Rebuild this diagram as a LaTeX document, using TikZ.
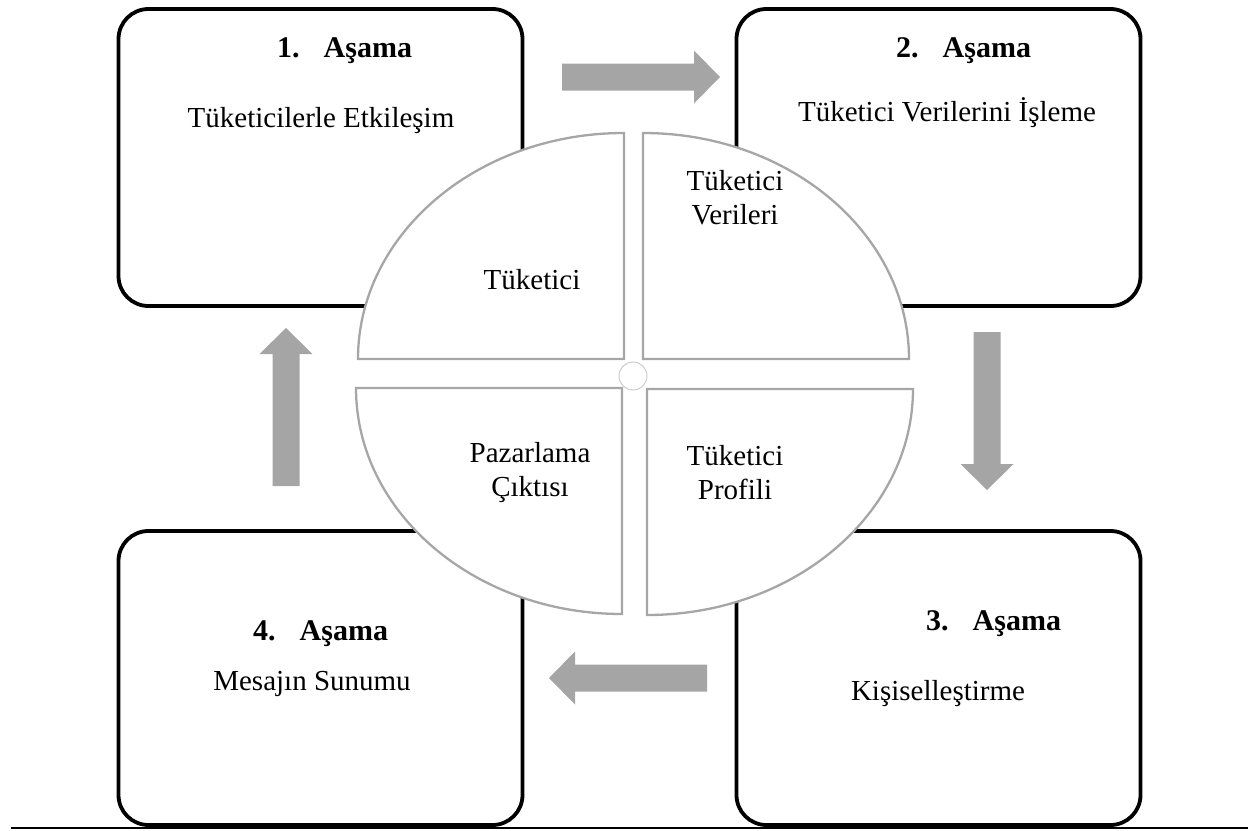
\documentclass[tikz,border=0pt]{standalone}
\usepackage{fontspec}
\setmainfont{Liberation Serif}
\definecolor{quadline}{HTML}{A6A6A6}
\definecolor{arrowgray}{HTML}{A5A5A5}
\definecolor{hubline}{HTML}{CCCCCC}

\begin{document}
\begin{tikzpicture}[x=1pt,y=-1pt,
  stage/.style={draw=black, line width=3.8pt, rounded corners=30pt, fill=white,
    minimum width=404pt, inner sep=0pt},
  quad/.style={draw=quadline, line width=2.3pt, fill=white},
  blockarrow/.pic={
    \fill[arrowgray] (-79,-13.5) -- (53,-13.5) -- (53,-26.5) -- (79,0)
      -- (53,26.5) -- (53,13.5) -- (-79,13.5) -- cycle;
  },
  lbl/.style={font=\fontsize{29}{34}\selectfont, inner sep=0pt, align=center},
  hdr/.style={font=\fontsize{30}{34}\selectfont\bfseries, inner sep=0pt, anchor=base west},
]
\useasboundingbox (0,0) rectangle (1253,830);

% the four stage boxes
\node[stage, minimum height=297pt] (box1) at (320.5,157.5) {};
\node[stage, minimum height=297pt] (box2) at (938.5,157.5) {};
\node[stage, minimum height=294pt] (box3) at (938.5,678) {};
\node[stage, minimum height=294pt] (box4) at (320.5,678) {};

% base line under the figure
\coordinate (baseL) at (11,828);
\coordinate (baseR) at (1248,828);
\draw[line width=2pt] (baseL) -- (baseR);

% block arrows between the stages
\pic at (641,77) {blockarrow};
\pic[rotate=-90] at (987,411) {blockarrow};
\pic[rotate=180] at (628,678) {blockarrow};
\pic[rotate=90] at (286,407) {blockarrow};

% the four quarter-ellipse segments
\draw[quad] (624,359) -- (358,359)
  arc[start angle=180, end angle=90, x radius=266pt, y radius=226pt] -- cycle;
\draw[quad] (643,359) -- (643,133)
  arc[start angle=90, end angle=0, x radius=266pt, y radius=226pt] -- cycle;
\draw[quad] (622,388) -- (622,614)
  arc[start angle=270, end angle=180, x radius=266pt, y radius=226pt] -- cycle;
\draw[quad] (647,389) -- (913,389)
  arc[start angle=0, end angle=-90, x radius=266pt, y radius=226pt] -- cycle;

% hub
\node[circle, draw=hubline, line width=1pt, fill=white, minimum size=28pt, inner sep=0pt] (hub) at (633,376) {};

% stage texts
\node[hdr] (h1) at (277,57) {1.\hspace{24pt}Aşama};
\node[lbl, anchor=base] (t1) at (321,127) {Tüketicilerle Etkileşim};
\node[hdr] (h2) at (896,57) {2.\hspace{24pt}Aşama};
\node[lbl, anchor=base] (t2) at (947,121) {Tüketici Verilerini İşleme};
\node[hdr] (h3) at (926,630) {3.\hspace{24pt}Aşama};
\node[lbl, anchor=base] (t3) at (938,700) {Kişiselleştirme};
\node[hdr] (h4) at (253,640) {4.\hspace{24pt}Aşama};
\node[lbl, anchor=base] (t4) at (312,690) {Mesajın Sunumu};

% segment texts
\node[lbl] (q1) at (532,280) {Tüketici};
\node[lbl] (q2) at (735,198) {Tüketici\\Verileri};
\node[lbl] (q3) at (530,473) {Pazarlama\\Çıktısı};
\node[lbl] (q4) at (735,473) {Tüketici\\Profili};
\end{tikzpicture}
\end{document}
